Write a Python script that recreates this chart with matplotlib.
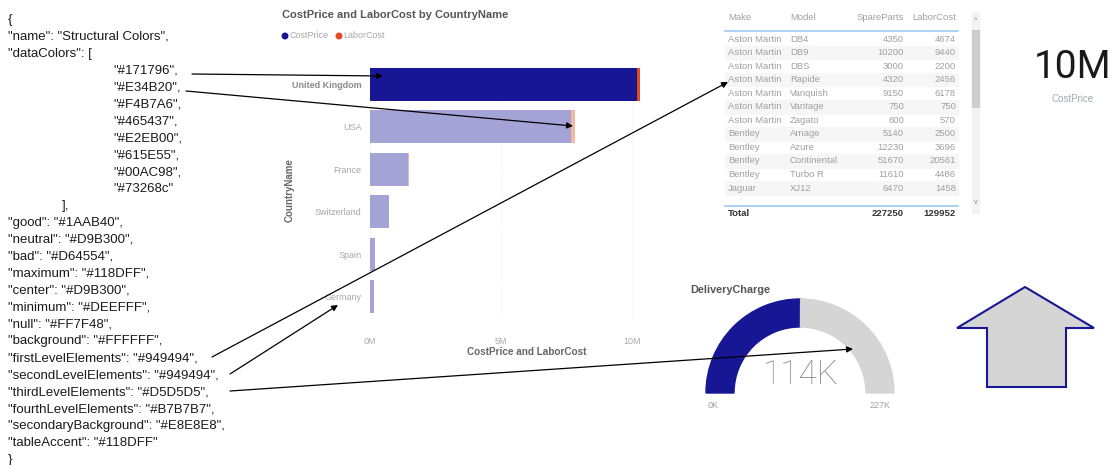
import numpy as np
import matplotlib
matplotlib.use("Agg")
import matplotlib.pyplot as plt
from matplotlib.patches import Wedge, Polygon, Rectangle

plt.rcParams['font.family'] = ['Liberation Sans', 'DejaVu Sans']

# JSON theme text
json_lines = [
    '{',
    '"name": "Structural Colors",',
    '"dataColors": [',
    '"#171796",', '"#E34B20",', '"#F4B7A6",', '"#465437",', '"#E2EB00",',
    '"#615E55",', '"#00AC98",', '"#73268c"',
    '],',
    '"good": "#1AAB40",',
    '"neutral": "#D9B300",',
    '"bad": "#D64554",',
    '"maximum": "#118DFF",',
    '"center": "#D9B300",',
    '"minimum": "#DEEFFF",',
    '"null": "#FF7F48",',
    '"background": "#FFFFFF",',
    '"firstLevelElements": "#949494",',
    '"secondLevelElements": "#949494",',
    '"thirdLevelElements": "#D5D5D5",',
    '"fourthLevelElements": "#B7B7B7",',
    '"secondaryBackground": "#E8E8E8",',
    '"tableAccent": "#118DFF"',
    '}',
]

# bar chart data
countries = ['United Kingdom', 'USA', 'France', 'Switzerland', 'Spain', 'Germany']
cost_price = [10.19e6, 7.67e6, 1.45e6, 0.72e6, 0.19e6, 0.15e6]
labor_cost = [0.12e6, 0.14e6, 0.04e6, 0.02e6, 0.01e6, 0.01e6]
x_ticks = [0, 5e6, 10e6]
x_ticklabels = ['0M', '5M', '10M']

# table data
tbl_cols = ['Make', 'Model', 'SpareParts', 'LaborCost']
makes = ['Aston Martin'] * 7 + ['Bentley'] * 4 + ['Jaguar']
models = ['DB4', 'DB9', 'DBS', 'Rapide', 'Vanquish', 'Vantage', 'Zagato',
          'Arnage', 'Azure', 'Continental', 'Turbo R', 'XJ12']
spare_parts = [4350, 10200, 3000, 4320, 9150, 750, 600, 5140, 12230, 51670, 11610, 6470]
labor_tbl = [4674, 9440, 2200, 2456, 6178, 750, 570, 2500, 3696, 20561, 4486, 1458]
total_spare = 227250
total_labor = 129952

# card + gauge
card_value = '10M'
card_label = 'CostPrice'
gauge_value = 114000
gauge_max = 227000

W, H = 1119, 465
fig = plt.figure(figsize=(W / 100, H / 100), dpi=100)
fig.patch.set_facecolor('white')

# ---- bar chart
bl, br, bt, bb = 370, 650, 63, 318
axb = fig.add_axes([bl / W, 1 - bb / H, (br - bl) / W, (bb - bt) / H])
y = np.arange(len(countries))
navy = '#171796'
orange = '#E34B20'
cp_col = [navy] + ['#A3A3D6'] * 5
lc_col = [orange] + ['#F4B7A6'] * 5
axb.barh(y, cost_price, height=0.78, color=cp_col, zorder=2)
axb.barh(y, labor_cost, left=cost_price, height=0.78, color=lc_col, zorder=2)
axb.set_ylim(len(countries) - 0.5, -0.5)
axb.set_xlim(0, 10e6 * (br - bl) / 262)
axb.set_xticks(x_ticks)
axb.set_xticklabels(x_ticklabels, fontsize=6.5, color='#A8A8A8')
axb.set_yticks(y)
axb.set_yticklabels(countries, fontsize=6.5, color='#A8A8A8')
axb.get_yticklabels()[0].set_fontweight('bold')
axb.get_yticklabels()[0].set_color('#8A8A8A')
axb.tick_params(length=0, pad=6)
axb.tick_params(axis='x', pad=14)
axb.grid(axis='x', color='#EEEEEE', linestyle=':', linewidth=0.8, zorder=0)
for s in axb.spines.values():
    s.set_visible(False)

# ---- overlay in pixel coordinates
ax = fig.add_axes([0, 0, 1, 1], zorder=5)
ax.set_xlim(0, W)
ax.set_ylim(H, 0)
ax.axis('off')
ax.patch.set_alpha(0)

# json text
indent = {3, 4, 5, 6, 7, 8, 9, 10}
for i, line in enumerate(json_lines):
    x = 113 if i in indent else (62 if line == '],' else 8)
    ax.text(x, 20 + i * 16.92, line, fontsize=9.5, color='#1A1A1A', va='center', ha='left')

# bar chart titles
ax.text(282, 15, 'CostPrice and LaborCost by CountryName', fontsize=8, fontweight='bold',
        color='#555555', va='center')
ax.scatter([285, 339], [36, 36], s=16, color=[navy, orange], zorder=3)
ax.text(290, 36, 'CostPrice', fontsize=6.5, color='#A8A8A8', va='center')
ax.text(343, 36, 'LaborCost', fontsize=6.5, color='#A8A8A8', va='center')
ax.text(290, 190, 'CountryName', fontsize=7, fontweight='bold', color='#666666',
        rotation=90, va='center', ha='center')
ax.text(527, 352, 'CostPrice and LaborCost', fontsize=7.2, fontweight='bold', color='#666666',
        va='center', ha='center')

# table
tc = '#A0A0A0'
ax.text(728, 18, tbl_cols[0], fontsize=6.8, color=tc, va='center')
ax.text(790, 18, tbl_cols[1], fontsize=6.8, color=tc, va='center')
ax.text(904, 18, tbl_cols[2], fontsize=6.8, color=tc, va='center', ha='right')
ax.text(956, 18, tbl_cols[3], fontsize=6.8, color=tc, va='center', ha='right')
ax.plot([725, 958], [31, 31], color='#9CC8F4', lw=1.2)
step = 13.55
for i in range(len(makes)):
    ry = 39 + i * step
    if i % 2 == 1:
        ax.add_patch(Rectangle((725, ry - step / 2), 233, step, color='#F6F6F6', zorder=0))
    ax.text(728, ry, makes[i], fontsize=6.8, color=tc, va='center')
    ax.text(790, ry, models[i], fontsize=6.8, color=tc, va='center')
    ax.text(904, ry, str(spare_parts[i]), fontsize=6.8, color=tc, va='center', ha='right')
    ax.text(956, ry, str(labor_tbl[i]), fontsize=6.8, color=tc, va='center', ha='right')
ax.plot([725, 958], [206, 206], color='#9CC8F4', lw=1.2)
ax.text(728, 213, 'Total', fontsize=6.8, color='#333333', va='center', fontweight='bold')
ax.text(904, 213, str(total_spare), fontsize=6.8, color='#333333', va='center', ha='right',
        fontweight='bold')
ax.text(956, 213, str(total_labor), fontsize=6.8, color='#333333', va='center', ha='right',
        fontweight='bold')
# scrollbar
ax.add_patch(Rectangle((972, 12), 7, 201, color='#F3F3F3', zorder=1))
ax.add_patch(Rectangle((972, 30), 7, 77, color='#CDCDCD', zorder=1))
ax.text(975.5, 20, '^', fontsize=5, color='#888888', ha='center', va='center')
ax.text(975.5, 202, 'v', fontsize=5, color='#888888', ha='center', va='center')

# card
ax.text(1073, 68, card_value, fontsize=28, color='#1A1A1A', ha='center', va='center',
        family=['Roboto', 'DejaVu Sans'])
ax.text(1073, 99, card_label, fontsize=7, color='#A0A8B0', ha='center', va='center')

# gauge (y axis is inverted, so the upper half is 180..360 degrees)
cx, cy, ro, wid = 800, 393, 94, 28
split = 180 + 180 * gauge_value / gauge_max
ax.add_patch(Wedge((cx, cy), ro, 180, split, width=wid, color=navy, zorder=1))
ax.add_patch(Wedge((cx, cy), ro, split, 360, width=wid, color='#D5D5D5', zorder=1))
ax.text(690, 290, 'DeliveryCharge', fontsize=7.8, fontweight='bold', color='#555555', va='center')
ax.text(801, 375, f'{gauge_value // 1000}K', fontsize=24, color='#8C8C8C', ha='center',
        va='center', family=['Roboto', 'DejaVu Sans'], fontweight='light')
ax.text(713, 405, '0K', fontsize=6.5, color='#A0A0A0', ha='center', va='center')
ax.text(880, 405, f'{gauge_max // 1000}K', fontsize=6.5, color='#A0A0A0', ha='center', va='center')

# arrow shape
shape = [(1025, 287), (1094, 328), (1066, 328), (1066, 387), (987, 387), (987, 328), (957, 328)]
ax.add_patch(Polygon(shape, closed=True, facecolor='#D5D5D5', edgecolor=navy, lw=1.5, zorder=1))

# pointer arrows
pointers = [((192, 74), (383, 76)), ((186, 91), (573, 126)), ((212, 357), (728, 82)),
            ((230, 374), (338, 305)), ((230, 391), (853, 349))]
for (x0, y0), (x1, y1) in pointers:
    ax.annotate('', xy=(x1, y1), xytext=(x0, y0), zorder=6,
                arrowprops=dict(arrowstyle='-|>', color='black', lw=0.9,
                                mutation_scale=9, shrinkA=0, shrinkB=0))

fig.savefig('out.png', dpi=100, facecolor='white')
